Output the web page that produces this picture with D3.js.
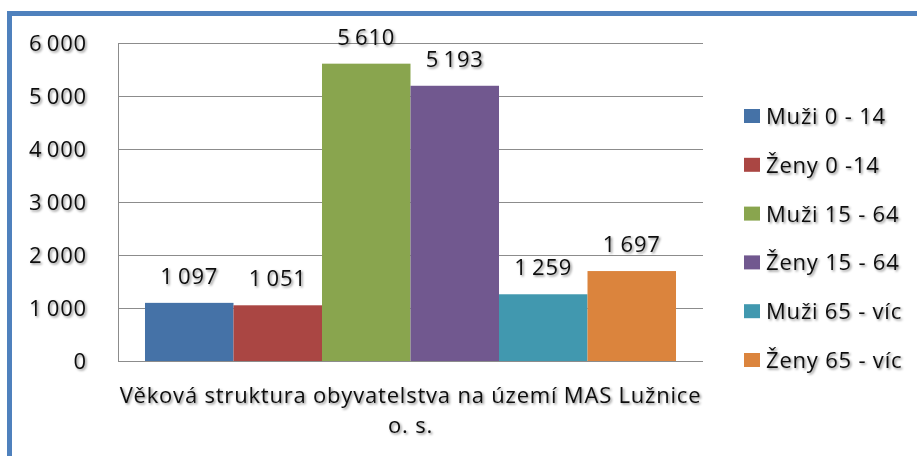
<!DOCTYPE html>
<html>
<head>
<meta charset="utf-8">
<script src="https://cdn.jsdelivr.net/npm/d3@7"></script>
<style>
  html, body { margin: 0; padding: 0; background: #fff; }
  svg text { font-family: "Open Sans", "Noto Sans", sans-serif; fill: #111; letter-spacing: 0.8px; }
</style>
</head>
<body>
<div id="chart"></div>
<script>
///////////////////////////////////////////////////////////////////////////
//////////////////////////////// Data /////////////////////////////////////
///////////////////////////////////////////////////////////////////////////

var seriesNames = ["Muži 0 - 14", "Ženy 0 -14", "Muži 15 - 64", "Ženy 15 - 64", "Muži 65 - víc", "Ženy 65 - víc"];
var seriesValues = [1097, 1051, 5610, 5193, 1259, 1697];
var seriesColors = ["#4572a7", "#aa4643", "#89a54e", "#71588f", "#4198af", "#db843d"];
var yTicks = [0, 1000, 2000, 3000, 4000, 5000, 6000];
var titleLines = ["Věková struktura obyvatelstva na území MAS Lužnice", "o. s."];

var data = seriesNames.map(function(d, i) {
	return {name: d, value: seriesValues[i], color: seriesColors[i]};
});

///////////////////////////////////////////////////////////////////////////
//////////////////////////// Set up the SVG ///////////////////////////////
///////////////////////////////////////////////////////////////////////////

var width = 917,
	height = 456;

var plot = {left: 118, right: 703, top: 43, bottom: 361};
var fontSize = 22;

var svg = d3.select("#chart")
	.append("svg")
	.attr("width", width)
	.attr("height", height);

//Soft shadow behind all the texts
var filter = svg.append("defs").append("filter")
	.attr("id", "shadow")
	.attr("x", "-10%").attr("y", "-30%")
	.attr("width", "130%").attr("height", "170%");
filter.append("feDropShadow")
	.attr("dx", 1.5)
	.attr("dy", 1.5)
	.attr("stdDeviation", 1.3)
	.attr("flood-color", "#000")
	.attr("flood-opacity", 0.45);

//Blue outer frame (runs off the right & bottom edge)
svg.append("rect")
	.attr("x", 9.5)
	.attr("y", 13.5)
	.attr("width", width + 20)
	.attr("height", height + 20)
	.style("fill", "none")
	.style("stroke", "#4f81bd")
	.style("stroke-width", 5);

///////////////////////////////////////////////////////////////////////////
//////////////////////////////// Scales ///////////////////////////////////
///////////////////////////////////////////////////////////////////////////

var x = d3.scaleBand()
	.domain(seriesNames)
	.range([plot.left, plot.right])
	.paddingInner(0)
	.paddingOuter(0.305);

var y = d3.scaleLinear()
	.domain([0, 6000])
	.range([plot.bottom, plot.top]);

var fmt = d3.formatLocale({decimal: ",", thousands: "\u2009", grouping: [3], currency: ["", ""]}).format(",d");

///////////////////////////////////////////////////////////////////////////
///////////////////////////// Grid & axis /////////////////////////////////
///////////////////////////////////////////////////////////////////////////

var yAxis = svg.append("g")
	.attr("class", "y-axis")
	.attr("transform", "translate(" + plot.left + ",0)")
	.call(d3.axisLeft(y).tickValues(yTicks).tickSize(-(plot.right - plot.left)).tickPadding(31).tickFormat(fmt));

yAxis.attr("font-family", null).attr("font-size", null);
yAxis.select(".domain").remove();
yAxis.selectAll(".tick line")
	.attr("shape-rendering", "crispEdges")
	.style("stroke", "#8c8c8c");
yAxis.selectAll(".tick text")
	.attr("filter", "url(#shadow)")
	.attr("fill", null)
	.style("font-size", fontSize + "px");

//Left axis line
svg.append("line")
	.attr("x1", plot.left + 0.5).attr("x2", plot.left + 0.5)
	.attr("y1", plot.top).attr("y2", plot.bottom)
	.style("stroke", "#8c8c8c");

///////////////////////////////////////////////////////////////////////////
//////////////////////////////// Bars /////////////////////////////////////
///////////////////////////////////////////////////////////////////////////

svg.selectAll(".bar")
	.data(data)
	.enter().append("rect")
	.attr("class", "bar")
	.attr("x", function(d) { return x(d.name); })
	.attr("y", function(d) { return y(d.value); })
	.attr("width", x.bandwidth())
	.attr("height", function(d) { return y(0) - y(d.value); })
	.style("fill", function(d) { return d.color; });

svg.selectAll(".bar-label")
	.data(data)
	.enter().append("text")
	.attr("class", "bar-label")
	.attr("x", function(d) { return x(d.name) + x.bandwidth() / 2; })
	.attr("y", function(d) { return y(d.value) - 19; })
	.attr("text-anchor", "middle")
	.attr("filter", "url(#shadow)")
	.style("font-size", fontSize + "px")
	.text(function(d) { return fmt(d.value); });

///////////////////////////////////////////////////////////////////////////
//////////////////////////////// Legend ///////////////////////////////////
///////////////////////////////////////////////////////////////////////////

var legendX = 744,
	legendTop = 116,
	legendStep = 48.8;

var legend = svg.selectAll(".legend-item")
	.data(data)
	.enter().append("g")
	.attr("class", "legend-item")
	.attr("transform", function(d, i) { return "translate(" + legendX + "," + (legendTop + i * legendStep) + ")"; });

legend.append("rect")
	.attr("x", 0)
	.attr("y", -7)
	.attr("width", 16)
	.attr("height", 14)
	.style("fill", function(d) { return d.color; });

legend.append("text")
	.attr("x", 22)
	.attr("dy", "0.36em")
	.attr("filter", "url(#shadow)")
	.style("font-size", fontSize + "px")
	.text(function(d) { return d.name; });

///////////////////////////////////////////////////////////////////////////
//////////////////////////////// Title ////////////////////////////////////
///////////////////////////////////////////////////////////////////////////

svg.selectAll(".title-line")
	.data(titleLines)
	.enter().append("text")
	.attr("class", "title-line")
	.attr("x", (plot.left + plot.right) / 2)
	.attr("y", function(d, i) { return 403 + i * 30; })
	.attr("text-anchor", "middle")
	.attr("filter", "url(#shadow)")
	.style("font-size", fontSize + "px")
	.text(function(d) { return d; });
</script>
</body>
</html>
